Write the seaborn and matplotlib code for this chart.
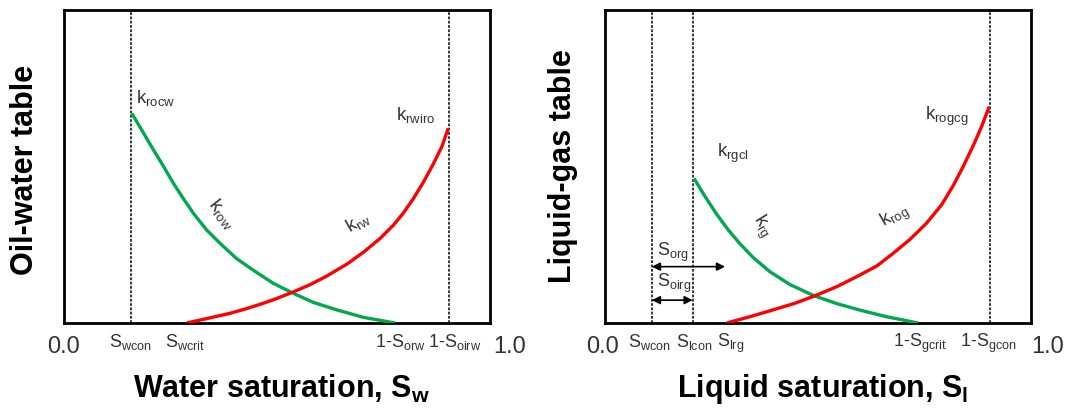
import numpy as np
import pandas as pd
import matplotlib
matplotlib.use("Agg")
import matplotlib.pyplot as plt
import seaborn as sns

# ==================================================
# DATA (saturation fractions)
# ==================================================

# oil-water table
ow_krow_s = [0.159, 0.178, 0.210, 0.233, 0.257, 0.280, 0.304, 0.335, 0.366,
             0.405, 0.444, 0.491, 0.538, 0.585, 0.640, 0.703, 0.777]
ow_krow_k = [0.670, 0.627, 0.553, 0.502, 0.446, 0.398, 0.350, 0.297, 0.255,
             0.206, 0.169, 0.127, 0.095, 0.066, 0.042, 0.018, 0.000]

ow_krw_s = [0.288, 0.335, 0.390, 0.429, 0.468, 0.499, 0.538, 0.577, 0.617,
            0.664, 0.703, 0.742, 0.773, 0.796, 0.820, 0.843, 0.867, 0.887, 0.902]
ow_krw_k = [0.000, 0.014, 0.031, 0.046, 0.063, 0.078, 0.099, 0.122, 0.150,
            0.188, 0.226, 0.270, 0.312, 0.350, 0.397, 0.448, 0.508, 0.563, 0.622]

ow_dashed = [0.157, 0.904]

ow_tick_pos = [0.0, 0.157, 0.284, 0.789, 0.918, 1.047]
ow_tick_lab = ["0.0", r"S$_{\mathrm{wcon}}$", r"S$_{\mathrm{wcrit}}$",
               r"1-S$_{\mathrm{orw}}$", r"1-S$_{\mathrm{oirw}}$", "1.0"]

# liquid-gas table
lg_krg_s = [0.209, 0.235, 0.262, 0.289, 0.317, 0.348, 0.387, 0.434, 0.489,
            0.544, 0.599, 0.661, 0.735]
lg_krg_k = [0.462, 0.404, 0.348, 0.298, 0.253, 0.209, 0.164, 0.123, 0.088,
            0.062, 0.041, 0.020, 0.000]

lg_krog_s = [0.286, 0.340, 0.395, 0.446, 0.497, 0.544, 0.591, 0.638, 0.677,
             0.716, 0.755, 0.790, 0.818, 0.841, 0.865, 0.884, 0.902]
lg_krog_k = [0.000, 0.020, 0.042, 0.063, 0.089, 0.116, 0.148, 0.182, 0.223,
             0.267, 0.319, 0.377, 0.440, 0.500, 0.568, 0.627, 0.691]

lg_dashed = [0.110, 0.206, 0.904]

lg_tick_pos = [-0.005, 0.104, 0.210, 0.296, 0.740, 0.900, 1.040]
lg_tick_lab = ["0.0", r"S$_{\mathrm{wcon}}$", r"S$_{\mathrm{lcon}}$",
               r"S$_{\mathrm{lrg}}$", r"1-S$_{\mathrm{gcrit}}$",
               r"1-S$_{\mathrm{gcon}}$", "1.0"]

# ==================================================
# STYLE
# ==================================================

sns.set_style("white")
plt.rcParams["font.family"] = ["Liberation Sans", "DejaVu Sans"]
plt.rcParams["mathtext.fontset"] = "custom"
plt.rcParams["mathtext.rm"] = "Liberation Sans"
plt.rcParams["mathtext.it"] = "Liberation Sans"
plt.rcParams["mathtext.bf"] = "Liberation Sans:bold"

GREEN = "#00a84f"
RED = "#ff0000"
TXT = "#333333"

fig = plt.figure(figsize=(10.7, 4.09), dpi=100)
ax1 = fig.add_axes([0.0598, 0.2103, 0.3981, 0.7653])
ax2 = fig.add_axes([0.5654, 0.2103, 0.3981, 0.7653])


def setup_axes(ax, dashed, tick_pos, tick_lab):
    ax.set_xlim(0, 1)
    ax.set_ylim(0, 1)
    ax.set_xticks([])
    ax.set_yticks([])
    for sp in ax.spines.values():
        sp.set_color("black")
        sp.set_linewidth(2.0)
    for xv in dashed:
        ax.axvline(xv, color="black", lw=1.1, ls=(0, (1.8, 1.0)), zorder=1)
    tr = ax.get_xaxis_transform()
    for xv, lab in zip(tick_pos, tick_lab):
        if lab in ("0.0", "1.0"):
            ax.text(xv, -0.095, lab, transform=tr, ha="center", va="baseline",
                    fontsize=17, color=TXT, clip_on=False)
        else:
            ax.text(xv, -0.078, lab, transform=tr, ha="center", va="baseline",
                    fontsize=13, color=TXT, clip_on=False)


def k_label(ax, x, y, txt, rot=0, ha="left"):
    ax.text(x, y, txt, fontsize=13.5, color=TXT, rotation=rot,
            ha=ha, va="center", rotation_mode="anchor")


def axis_titles(ax, xlab, xx, ylab, yx, yy):
    ax.text(xx, -0.21, xlab, transform=ax.transAxes, fontsize=22,
            fontweight="bold", color="black", ha="center", va="center",
            clip_on=False)
    ax.text(yx, yy, ylab, transform=ax.transAxes, fontsize=22,
            fontweight="bold", color="black", ha="center", va="center",
            rotation=90, clip_on=False)


def curve(ax, s, k, color):
    sns.lineplot(x=s, y=k, color=color, lw=2.4, ax=ax, zorder=3,
                 solid_joinstyle="round", solid_capstyle="butt")


# ==================================================
# OIL-WATER TABLE
# ==================================================

setup_axes(ax1, ow_dashed, ow_tick_pos, ow_tick_lab)

curve(ax1, ow_krow_s, ow_krow_k, GREEN)
curve(ax1, ow_krw_s, ow_krw_k, RED)

k_label(ax1, 0.168, 0.72, r"k$_{\mathrm{rocw}}$")
k_label(ax1, 0.780, 0.665, r"k$_{\mathrm{rwiro}}$")
k_label(ax1, 0.37, 0.35, r"k$_{\mathrm{row}}$", rot=-52, ha="center")
k_label(ax1, 0.691, 0.324, r"k$_{\mathrm{rw}}$", rot=30, ha="center")

axis_titles(ax1, r"Water saturation, S$_{\mathbf{w}}$", 0.51,
            "Oil-water table", -0.092, 0.49)

# ==================================================
# LIQUID-GAS TABLE
# ==================================================

setup_axes(ax2, lg_dashed, lg_tick_pos, lg_tick_lab)

curve(ax2, lg_krg_s, lg_krg_k, GREEN)
curve(ax2, lg_krog_s, lg_krog_k, RED)

k_label(ax2, 0.262, 0.542, r"k$_{\mathrm{rgcl}}$")
k_label(ax2, 0.752, 0.659, r"k$_{\mathrm{rogcg}}$")
k_label(ax2, 0.368, 0.308, r"k$_{\mathrm{rg}}$", rot=-58, ha="center")
k_label(ax2, 0.681, 0.34, r"k$_{\mathrm{rog}}$", rot=30, ha="center")

# residual saturation arrows
ax2.annotate("", xy=(0.282, 0.18), xytext=(lg_dashed[0], 0.18),
             arrowprops=dict(arrowstyle="<|-|>", color="black", lw=1.2,
                             mutation_scale=12, shrinkA=0, shrinkB=0))
ax2.annotate("", xy=(lg_dashed[1], 0.073), xytext=(lg_dashed[0], 0.073),
             arrowprops=dict(arrowstyle="<|-|>", color="black", lw=1.2,
                             mutation_scale=12, shrinkA=0, shrinkB=0))
ax2.text(0.122, 0.227, r"S$_{\mathrm{org}}$", fontsize=13, color=TXT,
         ha="left", va="center")
ax2.text(0.122, 0.128, r"S$_{\mathrm{oirg}}$", fontsize=13, color=TXT,
         ha="left", va="center")

axis_titles(ax2, r"Liquid saturation, S$_{\mathbf{l}}$", 0.512,
            "Liquid-gas table", -0.099, 0.5)

fig.savefig("out.png", dpi=100)
